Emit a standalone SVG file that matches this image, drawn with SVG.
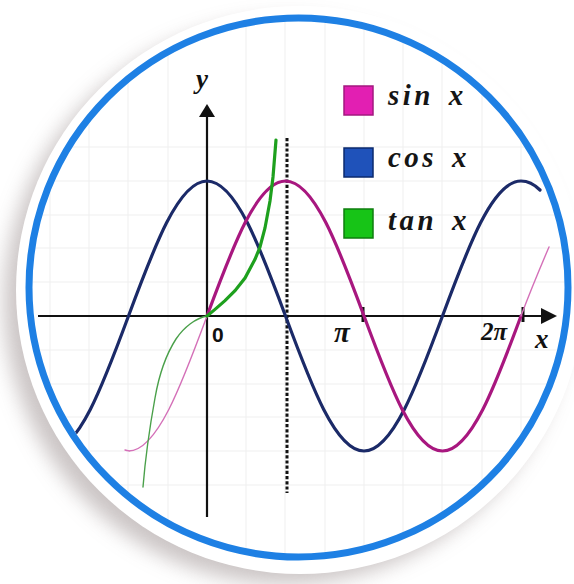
<svg xmlns="http://www.w3.org/2000/svg" width="574" height="584" viewBox="0 0 574 584">
  <defs>
    <filter id="blur" x="-20%" y="-20%" width="140%" height="140%">
      <feGaussianBlur stdDeviation="10"/>
    </filter>
    <clipPath id="inner">
      <circle cx="298.5" cy="287.5" r="266"/>
    </clipPath>
    <style>
      .grid { stroke: #efefef; stroke-width: 1; fill: none; }
      .axis { stroke: #111; stroke-width: 2.2; fill: none; }
      .tick { stroke: #111; stroke-width: 3; }
      .cos { stroke: #1b2a68; stroke-width: 3.2; fill: none; stroke-linecap: round; }
      .sin { stroke: #a8177f; stroke-width: 3.2; fill: none; stroke-linecap: round; }
      .sinthin { stroke: #d470b8; stroke-width: 1.4; fill: none; stroke-linecap: round; }
      .tan { stroke: #1ea01e; stroke-width: 3.2; fill: none; stroke-linecap: round; }
      .tanthin { stroke: #4aa04a; stroke-width: 1.4; fill: none; stroke-linecap: round; }
      .math { font-family: "Liberation Serif", "DejaVu Serif", serif; font-style: italic; font-weight: bold; fill: #111; }
      .legend { font-family: "Liberation Serif", "DejaVu Serif", serif; font-style: italic; font-weight: bold; font-size: 29px; letter-spacing: 3.5px; word-spacing: 4px; fill: #151515; }
    </style>
  </defs>

  <rect width="574" height="584" fill="#ffffff"/>

  <g id="frame">
    <circle cx="286" cy="302" r="282" fill="#b9b1b1" opacity="0.75" filter="url(#blur)"/>
    <circle cx="300" cy="290" r="284" fill="#ffffff"/>
  </g>

  <g id="grid" clip-path="url(#inner)">
    <path class="grid" d="M50,0V584 M89,0V584 M128,0V584 M168,0V584 M246,0V584 M285,0V584 M325,0V584 M364,0V584 M403,0V584 M442,0V584 M482,0V584 M521,0V584 M0,147H574 M0,181H574 M0,215H574 M0,248H574 M0,282H574 M0,350H574 M0,384H574 M0,417H574 M0,451H574 M0,485H574"/>
  </g>

  <g id="axes">
    <line class="axis" x1="38" y1="316" x2="545" y2="316"/>
    <polygon points="557,316 541,308 541,324" fill="#111"/>
    <line class="axis" x1="207" y1="517" x2="207" y2="114"/>
    <polygon points="207,104 199,117 215,117" fill="#111"/>
    <line class="tick" x1="363" y1="307" x2="363" y2="322"/>
    <line class="tick" x1="523" y1="307" x2="523" y2="322"/>
    <text class="math" x="196" y="88" font-size="27">y</text>
    <text class="math" x="535" y="348" font-size="27">x</text>
    <text x="212" y="342" font-family="Liberation Sans, Arial, sans-serif" font-weight="bold" font-size="21" fill="#111">0</text>
    <text class="math" x="334" y="342" font-size="29">π</text>
    <text class="math" x="481" y="340" font-size="25">2π</text>
  </g>

  <g id="asymptote">
    <line x1="287" y1="138" x2="287" y2="493" stroke="#111" stroke-width="3" stroke-dasharray="3.2 2"/>
  </g>

  <g id="curves">
    <g id="cos" clip-path="url(#inner)">
      <path class="cos" d="M50,451 C78.4,451 102.9,385.2 128.5,316 C154.1,246.8 178.6,181 207,181 C235.4,181 259.9,246.8 285.5,316 C311.1,385.2 335.6,451 364,451 C392.4,451 416.9,385.2 442.5,316 C468.1,246.8 492.6,181 521,181 C527,181 534,184 540,190"/>
    </g>
    <g id="sin">
      <path class="sinthin" d="M125,450 C128,451 132,451 128.5,451 C156.9,451 181.4,385.2 207,316"/>
      <path class="sin" d="M207,316 C232.6,246.8 257.1,181 285.5,181 C313.9,181 338.4,246.8 364,316 C389.6,385.2 414.1,451 442.5,451 C470.9,451 495.4,385.2 521,316"/>
      <path class="sinthin" d="M521,316 C530,292 540,268 549,247"/>
    </g>
    <g id="tan">
      <path class="tanthin" d="M207,316 C196,318 184,327 176,339 C167,353 159,375 155,398 C151,420 146,450 143,487"/>
      <path class="tan" d="M207,316 L215,309.4 L225,300.7 L235,290.7 L245,278 L255,259.3 L260,247 L265,228 L270,201 L273,177 L276,140"/>
    </g>
  </g>

  <g id="ring">
    <circle cx="298.5" cy="287.5" r="269.5" fill="none" stroke="#1e80e4" stroke-width="7"/>
  </g>

  <g id="legend">
    <g id="legend-sin">
      <rect x="344" y="86" width="29" height="29" fill="#e21fb2" stroke="#a3187f" stroke-width="1.5"/>
      <text class="legend" x="388" y="105">sin x</text>
    </g>
    <g id="legend-cos">
      <rect x="344" y="148" width="29" height="29" fill="#1f52ba" stroke="#0b2a6e" stroke-width="1.5"/>
      <text class="legend" x="388" y="167">cos x</text>
    </g>
    <g id="legend-tan">
      <rect x="344" y="209" width="29" height="29" fill="#17c417" stroke="#0e7e0e" stroke-width="1.5"/>
      <text class="legend" x="388" y="230">tan x</text>
    </g>
  </g>
</svg>
